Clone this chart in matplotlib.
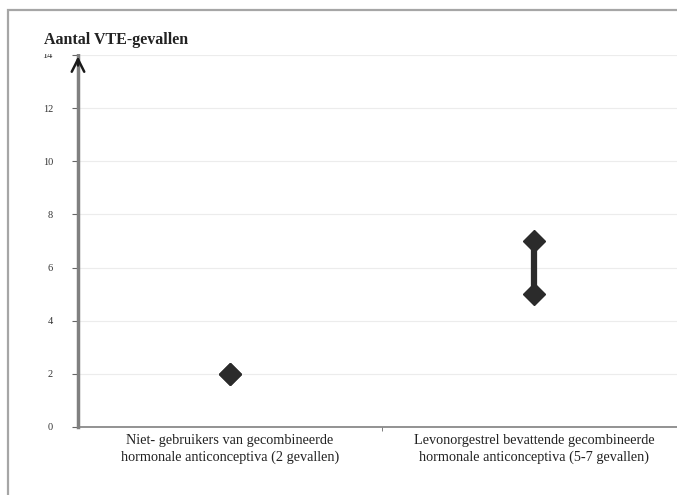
import matplotlib
matplotlib.use('Agg')
import matplotlib.pyplot as plt
from matplotlib.patches import Rectangle

# data
categories = ['Niet- gebruikers van gecombineerde\nhormonale anticonceptiva (2 gevallen)',
              'Levonorgestrel bevattende gecombineerde\nhormonale anticonceptiva (5-7 gevallen)']
low_vals = [2, 5]
high_vals = [2, 7]
y_ticks = [0, 2, 4, 6, 8, 10, 12, 14]
y_title = 'Aantal VTE-gevallen'

plt.rcParams['font.family'] = ['Liberation Serif', 'DejaVu Serif']

fig = plt.figure(figsize=(6.77, 4.95), dpi=100)
ax = fig.add_axes([78 / 677, 68 / 495, 608 / 677, 372 / 495])

# outer frame of the original graphic
fig.patches.append(Rectangle((8 / 677, -0.1), 1.2, 1.08,
                             transform=fig.transFigure, fill=False,
                             edgecolor='#a6a6a6', lw=1.6, zorder=0))

xs = [i + 0.5 for i in range(len(categories))]
for x, lo, hi in zip(xs, low_vals, high_vals):
    if hi != lo:
        ax.plot([x, x], [lo, hi], color='#2b2b2b', lw=4.5, solid_capstyle='butt', zorder=3)
    ax.plot([x, x], [lo, hi], linestyle='none', marker='D', ms=11,
            color='#2b2b2b', zorder=4)

ax.set_xlim(0, 2)
ax.set_ylim(0, 14)
ax.set_yticks(y_ticks)
ax.set_yticklabels([str(v) for v in y_ticks], fontsize=7.5, color='#333333')
ax.set_xticks(xs)
ax.set_xticklabels(categories, fontsize=10.3, color='#222222', linespacing=1.3)
ax.tick_params(axis='x', length=0, pad=5)
ax.set_xticks([1], minor=True)
ax.tick_params(axis='x', which='minor', length=3, color='#666666')
ax.tick_params(axis='y', length=4, color='#666666', pad=14)

ax.grid(axis='y', color='#ececec', lw=0.8)
ax.set_axisbelow(True)
for s in ['top', 'right']:
    ax.spines[s].set_visible(False)
ax.spines['left'].set_color('#808080')
ax.spines['left'].set_linewidth(2.5)
ax.spines['bottom'].set_color('#808080')
ax.spines['bottom'].set_linewidth(1.2)

# arrow head at the top of the y-axis
ax.annotate('', xy=(0, 14.05), xytext=(0, 13.5),
            xycoords=('axes fraction', 'data'), textcoords=('axes fraction', 'data'),
            arrowprops=dict(arrowstyle='->,head_length=0.9,head_width=0.45',
                            color='#1a1a1a', lw=1.8), annotation_clip=False)

fig.text(44 / 677, 1 - 40 / 495, y_title, fontsize=11.5, fontweight='bold',
         color='#222222', va='center', ha='left',
         bbox=dict(facecolor='white', edgecolor='none', pad=4))

fig.savefig('out.png', dpi=100)
